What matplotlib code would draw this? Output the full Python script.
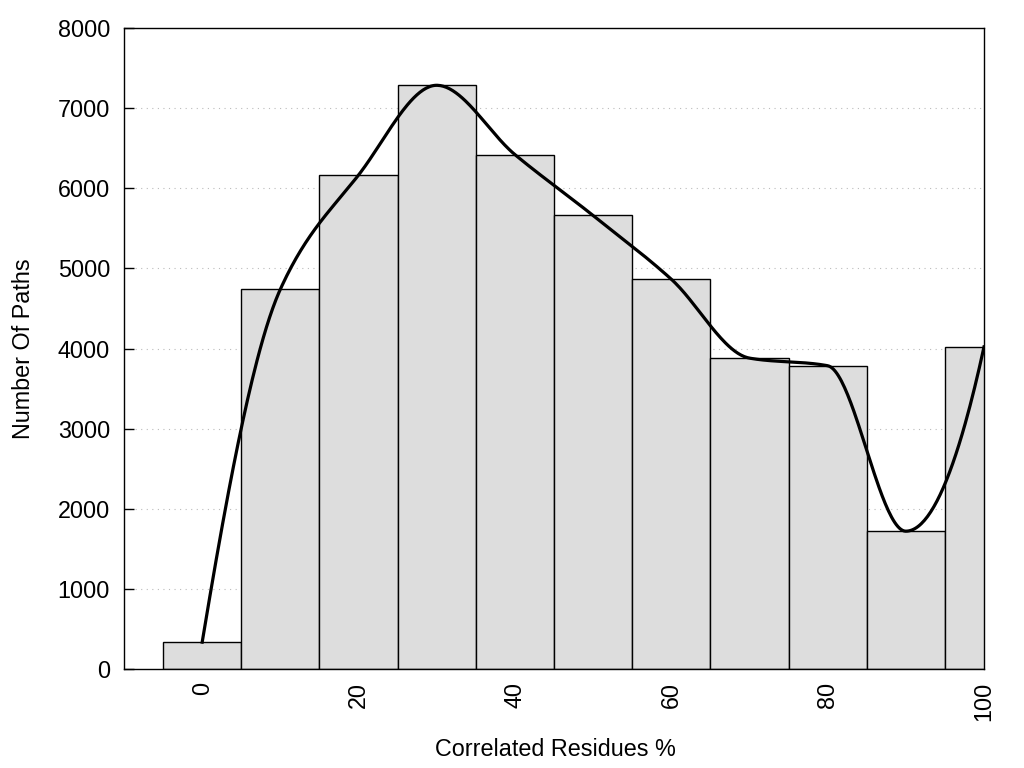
import numpy as np
import matplotlib
matplotlib.use('Agg')
import matplotlib.pyplot as plt

plt.rcParams['font.family'] = ['Liberation Sans', 'DejaVu Sans']

# histogram data (bin centres in %, counts)
centers = [0, 10, 20, 30, 40, 50, 60, 70, 80, 90, 100]
counts = [335, 4740, 6165, 7285, 6420, 5660, 4865, 3880, 3785, 1720, 4020]
xticks = [0, 20, 40, 60, 80, 100]
yticks = [0, 1000, 2000, 3000, 4000, 5000, 6000, 7000, 8000]


def mono_spline(x, y, xs):
    # monotone cubic (like gnuplot 'smooth mcsplines')
    x = np.asarray(x, float)
    y = np.asarray(y, float)
    n = len(x)
    h = np.diff(x)
    delta = np.diff(y) / h
    d = np.zeros(n)
    for k in range(1, n - 1):
        if delta[k - 1] * delta[k] <= 0:
            d[k] = 0
        else:
            w1 = 2 * h[k] + h[k - 1]
            w2 = h[k] + 2 * h[k - 1]
            d[k] = (w1 + w2) / (w1 / delta[k - 1] + w2 / delta[k])

    def end(h0, h1, m0, m1):
        dd = ((2 * h0 + h1) * m0 - h0 * m1) / (h0 + h1)
        if np.sign(dd) != np.sign(m0):
            dd = 0
        elif np.sign(m0) != np.sign(m1) and abs(dd) > abs(3 * m0):
            dd = 3 * m0
        return dd

    d[0] = end(h[0], h[1], delta[0], delta[1])
    d[-1] = end(h[-1], h[-2], delta[-1], delta[-2])
    out = []
    for xv in xs:
        i = min(max(np.searchsorted(x, xv) - 1, 0), n - 2)
        t = (xv - x[i]) / h[i]
        h00 = 2 * t ** 3 - 3 * t ** 2 + 1
        h10 = t ** 3 - 2 * t ** 2 + t
        h01 = -2 * t ** 3 + 3 * t ** 2
        h11 = t ** 3 - t ** 2
        out.append(h00 * y[i] + h10 * h[i] * d[i] + h01 * y[i + 1] + h11 * h[i] * d[i + 1])
    return np.array(out)


fig = plt.figure(figsize=(10.24, 7.68), dpi=100)
ax = fig.add_axes([124 / 1024, 1 - 669 / 768, 860 / 1024, 641 / 768])

for y in yticks[1:-1]:
    ax.axhline(y, color='#bbbbbb', lw=0.8, ls=(0, (1, 4)), zorder=0)

ax.bar(centers, counts, width=10, color='#dddddd', edgecolor='black', linewidth=1.0, zorder=2)

xs = np.linspace(centers[0], centers[-1], 500)
ax.plot(xs, mono_spline(centers, counts, xs), color='black', lw=2.3, zorder=3)

fs = 16.8
ax.set_xlim(-10, 100)
ax.set_ylim(0, 8000)
ax.set_xticks(xticks)
ax.set_xticklabels([str(t) for t in xticks], rotation=90, fontsize=fs)
ax.set_yticks(yticks)
ax.set_yticklabels([str(t) for t in yticks], fontsize=fs)
ax.tick_params(axis='y', direction='in', length=7, width=1, pad=10)
ax.tick_params(axis='x', length=0, pad=9)
for s in ax.spines.values():
    s.set_linewidth(1.0)
    s.set_zorder(5)

ax.set_xlabel('Correlated Residues %', fontsize=fs, va='center')
ax.set_ylabel('Number Of Paths', fontsize=fs, va='center')
ax.xaxis.set_label_coords((555 - 124) / 860, -(750 - 669) / 641)
ax.yaxis.set_label_coords(-(124 - 24) / 860, 0.5)

fig.savefig('out.png', dpi=100)
